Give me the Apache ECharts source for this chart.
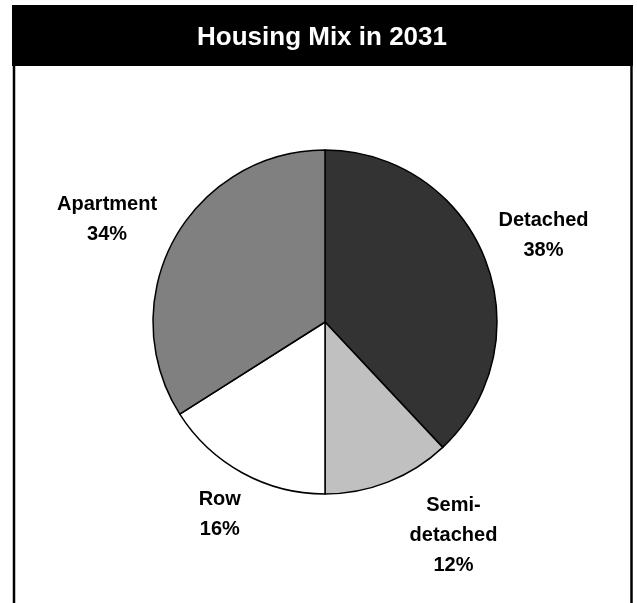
<!DOCTYPE html>
<html>
<head>
<meta charset="utf-8">
<script src="https://cdn.jsdelivr.net/npm/echarts@6/dist/echarts.min.js"></script>
<style>
  html, body { margin: 0; padding: 0; background: #ffffff; }
  #chart { width: 637px; height: 603px; }
</style>
</head>
<body>
<div id="chart"></div>
<script>
// Housing mix shares (percent) for 2031
const categories = ['Detached', 'Semi-detached', 'Row', 'Apartment'];
const shares = [38, 12, 16, 34];
const chartTitle = 'Housing Mix in 2031';

// Slice fills, in category order
const sliceColors = ['#333333', '#c0c0c0', '#ffffff', '#808080'];

// Pie geometry and label placement
const pieCenter = [325, 322];
const pieRadius = 172;
const labelRadius = 235;
const labelNudge = [[0, 0], [42, -5], [8, -13], [-12, 11]];

const FONT = '"Liberation Sans", Arial, Helvetica, sans-serif';

const total = shares.reduce((a, b) => a + b, 0);
const midFraction = [];
let acc = 0;
shares.forEach(v => { midFraction.push((acc + v / 2) / total); acc += v; });

const chart = echarts.init(document.getElementById('chart'), null, { renderer: 'canvas' });

chart.setOption({
  backgroundColor: '#ffffff',
  animation: false,
  graphic: [
    { type: 'rect', shape: { x: 12, y: 5, width: 621, height: 61 }, style: { fill: '#000000' }, z: 10 },
    { type: 'text', x: 322, y: 37.5, style: { text: chartTitle, fill: '#ffffff', font: 'bold 26px ' + FONT, align: 'center', verticalAlign: 'middle' }, z: 11 },
    { type: 'line', shape: { x1: 14, y1: 66, x2: 14, y2: 603 }, style: { stroke: '#000000', lineWidth: 2.5 }, z: 10 },
    { type: 'line', shape: { x1: 631.5, y1: 66, x2: 631.5, y2: 603 }, style: { stroke: '#000000', lineWidth: 2.5 }, z: 10 }
  ],
  series: [{
    type: 'pie',
    center: pieCenter,
    radius: pieRadius,
    startAngle: 90,
    clockwise: true,
    avoidLabelOverlap: false,
    data: categories.map((name, i) => ({
      name: name,
      value: shares[i],
      itemStyle: { color: sliceColors[i] }
    })),
    itemStyle: { borderColor: '#000000', borderWidth: 1.5 },
    emphasis: { disabled: true },
    label: {
      show: true,
      position: 'outside',
      formatter: p => p.name.replace('-', '-\n') + '\n' + p.value + '%',
      fontFamily: FONT,
      fontWeight: 'bold',
      fontSize: 20,
      lineHeight: 30,
      color: '#000000',
      align: 'center'
    },
    labelLine: { show: false },
    labelLayout: params => {
      const i = params.dataIndex;
      const ang = midFraction[i] * Math.PI * 2;
      return {
        x: pieCenter[0] + labelRadius * Math.sin(ang) + labelNudge[i][0],
        y: pieCenter[1] - labelRadius * Math.cos(ang) + labelNudge[i][1],
        align: 'center',
        verticalAlign: 'middle'
      };
    }
  }]
});
</script>
</body>
</html>
